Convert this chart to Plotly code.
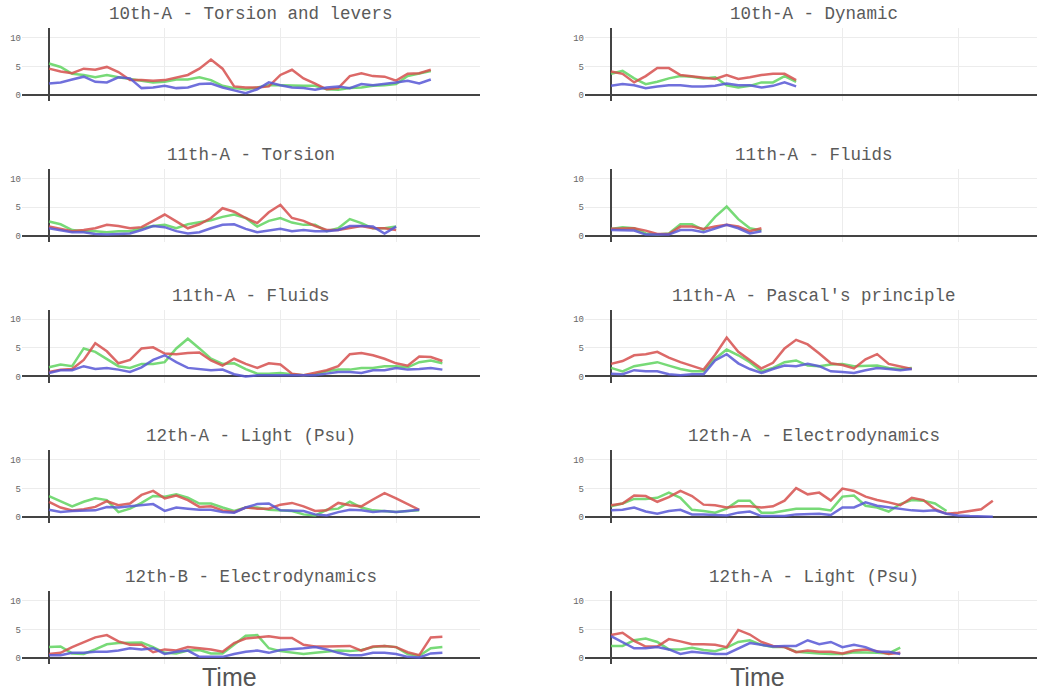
import plotly.graph_objects as go

# ---- panel titles (2 columns x 5 rows, read row by row) ----
titles = [
    "10th-A - Torsion and levers", "10th-A - Dynamic",
    "11th-A - Torsion", "11th-A - Fluids",
    "11th-A - Fluids", "11th-A - Pascal's principle",
    "12th-A - Light (Psu)", "12th-A - Electrodynamics",
    "12th-B - Electrodynamics", "12th-A - Light (Psu)",
]

# time step between consecutive samples
step = 2

# ---- series values per panel ----
torsion_levers_red = [4.6, 4.1, 3.8, 4.6, 4.4, 4.9, 4.0, 2.6, 2.6, 2.5, 2.6, 3.0, 3.5, 4.6, 6.2, 4.6, 1.5, 1.3, 1.3, 1.5, 3.5, 4.4, 2.9, 2.0, 1.0, 1.2, 3.3, 3.8, 3.3, 3.2, 2.5, 3.7, 3.8, 4.4]
torsion_levers_green = [5.5, 4.9, 3.7, 3.5, 3.1, 3.5, 3.1, 2.8, 2.6, 2.2, 2.3, 2.7, 2.7, 3.1, 2.6, 1.6, 1.2, 1.0, 1.3, 1.7, 1.7, 1.6, 1.6, 1.6, 1.0, 0.9, 1.2, 1.3, 1.6, 1.7, 1.9, 3.3, 3.7, 4.2]
torsion_levers_blue = [2.0, 2.2, 2.7, 3.2, 2.3, 2.2, 3.1, 2.9, 1.2, 1.3, 1.6, 1.2, 1.3, 1.9, 2.0, 1.3, 0.8, 0.3, 1.0, 2.2, 1.7, 1.3, 1.2, 0.9, 1.3, 1.5, 1.2, 1.9, 1.7, 1.9, 2.2, 2.5, 2.0, 2.7]

dynamic_red = [4.1, 3.7, 2.2, 3.3, 4.7, 4.7, 3.5, 3.3, 3.1, 2.8, 3.5, 2.8, 3.1, 3.5, 3.7, 3.7, 2.6]
dynamic_green = [3.7, 4.2, 2.9, 1.9, 2.3, 2.9, 3.3, 3.2, 2.9, 3.1, 1.7, 1.3, 1.6, 2.2, 2.2, 3.3, 2.3]
dynamic_blue = [1.6, 1.9, 1.7, 1.2, 1.5, 1.7, 1.7, 1.5, 1.5, 1.6, 2.0, 1.7, 1.7, 1.3, 1.6, 2.2, 1.5]

torsion_red = [1.6, 1.2, 0.8, 1.0, 1.3, 1.9, 1.7, 1.3, 1.5, 2.6, 3.7, 2.5, 1.3, 2.0, 3.1, 4.8, 4.2, 3.1, 2.2, 4.1, 5.4, 3.1, 2.6, 1.7, 1.0, 1.0, 1.3, 1.7, 1.3, 1.3, 1.0]
torsion_green = [2.5, 2.0, 1.0, 0.8, 0.8, 0.6, 0.8, 0.8, 1.3, 1.7, 1.9, 1.3, 2.0, 2.3, 2.7, 3.3, 3.7, 3.1, 1.6, 2.6, 3.1, 2.3, 1.9, 1.9, 0.8, 1.3, 2.9, 2.2, 1.3, 1.3, 1.6]
torsion_blue = [1.3, 0.9, 0.6, 0.6, 0.3, 0.2, 0.3, 0.4, 1.0, 1.7, 1.5, 0.8, 0.4, 0.6, 1.3, 1.9, 2.0, 1.2, 0.6, 0.9, 1.2, 0.8, 1.0, 0.8, 0.8, 1.0, 1.7, 1.7, 1.6, 0.4, 1.6]

fluids_short_red = [1.2, 1.3, 1.3, 0.9, 0.3, 0.3, 1.6, 1.6, 1.2, 1.6, 1.9, 1.6, 0.8, 1.3]
fluids_short_green = [1.2, 1.5, 1.3, 0.4, 0.2, 0.4, 2.0, 2.0, 1.0, 3.3, 5.1, 2.9, 1.3, 0.9]
fluids_short_blue = [1.0, 1.0, 0.9, 0.2, 0.2, 0.2, 1.0, 1.0, 0.6, 1.2, 1.9, 1.3, 0.4, 0.8]

fluids_red = [0.8, 1.2, 1.3, 2.9, 5.8, 4.4, 2.3, 2.9, 4.9, 5.1, 4.0, 3.9, 4.1, 4.2, 2.8, 1.9, 3.1, 2.2, 1.5, 2.3, 2.1, 0.5, 0.2, 0.6, 1.1, 1.8, 3.9, 4.1, 3.7, 3.1, 2.3, 1.9, 3.5, 3.4, 2.7]
fluids_green = [1.6, 2.1, 1.8, 4.9, 4.3, 3.1, 1.8, 1.5, 2.2, 2.2, 2.5, 4.9, 6.6, 4.9, 3.1, 2.2, 2.3, 1.3, 0.5, 0.5, 0.6, 0.4, 0.2, 0.4, 0.9, 1.2, 1.2, 1.5, 1.5, 1.8, 1.8, 1.6, 2.5, 2.8, 2.3]
fluids_blue = [0.6, 1.1, 1.1, 1.8, 1.3, 1.5, 1.2, 0.8, 1.6, 2.9, 3.7, 2.5, 1.5, 1.3, 1.1, 1.2, 0.4, 0.0, 0.2, 0.2, 0.2, 0.2, 0.2, 0.2, 0.5, 0.8, 0.8, 0.6, 1.1, 1.1, 1.5, 1.2, 1.3, 1.5, 1.2]

pascal_red = [2.2, 2.7, 3.7, 3.9, 4.3, 3.3, 2.5, 1.8, 1.2, 3.8, 6.8, 4.3, 2.9, 1.4, 2.4, 4.9, 6.4, 5.6, 4.0, 2.3, 2.0, 1.4, 3.0, 3.9, 2.2, 1.7, 1.3]
pascal_green = [1.5, 0.9, 1.8, 2.2, 2.5, 1.9, 1.3, 0.9, 0.9, 3.1, 4.7, 3.7, 2.5, 0.9, 1.5, 2.5, 2.8, 1.9, 1.8, 2.1, 2.2, 1.8, 1.8, 1.9, 1.5, 1.3, 1.5]
pascal_blue = [0.5, 0.4, 1.1, 0.9, 0.9, 0.4, 0.2, 0.4, 0.4, 2.8, 3.9, 2.3, 1.3, 0.6, 1.3, 1.9, 1.8, 2.2, 1.8, 0.9, 0.8, 0.6, 1.1, 1.5, 1.3, 1.1, 1.3]

light_a_red = [2.7, 1.7, 1.2, 1.4, 1.8, 2.8, 2.1, 2.4, 3.9, 4.6, 3.3, 3.8, 3.0, 1.8, 1.9, 1.2, 0.9, 1.7, 1.5, 1.5, 2.2, 2.5, 1.9, 1.1, 1.2, 2.5, 2.1, 1.9, 3.1, 4.2, 3.3, 2.3, 1.3]
light_a_green = [3.7, 2.8, 1.9, 2.7, 3.3, 3.0, 0.9, 1.5, 2.5, 3.7, 3.6, 4.0, 3.4, 2.4, 2.4, 1.7, 1.1, 1.7, 1.7, 1.3, 1.2, 1.1, 0.5, 0.3, 1.3, 1.5, 2.7, 1.7, 1.2, 1.1, 0.9, 1.1, 1.2]
light_a_blue = [1.3, 0.9, 1.1, 1.2, 1.2, 1.8, 1.7, 1.9, 2.1, 2.3, 1.1, 1.7, 1.5, 1.3, 1.3, 0.9, 0.8, 1.7, 2.3, 2.4, 1.2, 1.2, 1.1, 0.5, 0.3, 0.9, 1.3, 1.2, 0.9, 1.1, 0.9, 1.1, 1.3]

electro_a_red = [2.1, 2.4, 3.8, 3.7, 2.7, 3.5, 4.6, 3.7, 2.2, 2.1, 1.7, 1.9, 1.9, 1.7, 1.9, 2.9, 5.1, 4.0, 4.3, 2.9, 5.0, 4.6, 3.6, 3.0, 2.6, 2.1, 3.4, 3.0, 1.4, 0.6, 0.8, 1.1, 1.4, 2.9]
electro_a_green = [1.9, 2.4, 3.2, 3.2, 3.4, 4.3, 3.4, 1.3, 1.1, 0.8, 1.5, 2.9, 2.9, 0.8, 0.8, 1.1, 1.5, 1.5, 1.5, 1.2, 3.6, 3.8, 2.0, 1.7, 1.0, 2.3, 3.0, 2.9, 2.4, 1.1]
electro_a_blue = [1.2, 1.3, 1.7, 1.0, 0.6, 1.1, 1.3, 0.5, 0.5, 0.4, 0.3, 0.8, 1.0, 0.2, 0.2, 0.2, 0.5, 0.6, 0.6, 0.4, 1.7, 1.7, 2.6, 2.0, 1.7, 1.5, 1.2, 1.1, 1.2, 0.6, 0.3, 0.2, 0.1, 0.1]

electro_b_red = [0.7, 0.9, 1.9, 2.7, 3.6, 4.0, 2.9, 2.3, 2.3, 1.0, 1.5, 1.3, 1.9, 1.7, 1.5, 1.1, 2.6, 3.4, 3.6, 3.8, 3.5, 3.5, 2.3, 2.0, 2.0, 2.1, 2.1, 1.3, 2.0, 2.1, 1.9, 1.0, 0.5, 3.6, 3.7]
electro_b_green = [1.9, 2.0, 0.8, 0.7, 1.5, 2.4, 2.6, 2.6, 2.7, 1.9, 0.9, 0.8, 1.3, 1.4, 0.8, 0.8, 2.3, 3.9, 4.0, 1.7, 1.2, 1.0, 0.7, 0.9, 1.1, 1.3, 1.2, 1.4, 1.9, 2.1, 1.9, 0.7, 0.4, 1.7, 1.9]
electro_b_blue = [0.5, 0.5, 0.9, 0.9, 1.1, 1.1, 1.3, 1.7, 1.5, 1.7, 0.7, 1.1, 1.3, 0.2, 0.2, 0.2, 0.7, 1.1, 1.3, 0.9, 1.4, 1.5, 1.7, 1.9, 1.5, 0.9, 0.5, 0.5, 0.9, 0.9, 0.7, 0.2, 0.1, 0.8, 0.9]

light_b_red = [4.0, 4.4, 3.0, 2.0, 2.0, 3.3, 2.9, 2.4, 2.4, 2.3, 1.9, 4.9, 4.1, 2.8, 2.1, 1.9, 1.0, 1.3, 1.1, 1.1, 0.8, 1.3, 1.5, 1.2, 0.7, 0.9]
light_b_green = [2.1, 2.1, 3.1, 3.4, 2.8, 1.5, 1.5, 1.8, 1.4, 1.2, 1.8, 2.8, 3.1, 2.3, 1.9, 1.9, 1.1, 0.9, 0.8, 0.7, 0.7, 1.0, 1.0, 0.9, 0.8, 1.8]
light_b_blue = [3.8, 2.8, 1.7, 1.7, 1.9, 1.5, 0.7, 1.1, 0.9, 0.7, 0.7, 1.7, 2.6, 2.3, 2.0, 2.1, 2.1, 3.1, 2.4, 2.8, 1.9, 2.3, 1.9, 1.1, 1.1, 0.7]

panels = [
    (torsion_levers_red, torsion_levers_green, torsion_levers_blue),
    (dynamic_red, dynamic_green, dynamic_blue),
    (torsion_red, torsion_green, torsion_blue),
    (fluids_short_red, fluids_short_green, fluids_short_blue),
    (fluids_red, fluids_green, fluids_blue),
    (pascal_red, pascal_green, pascal_blue),
    (light_a_red, light_a_green, light_a_blue),
    (electro_a_red, electro_a_green, electro_a_blue),
    (electro_b_red, electro_b_green, electro_b_blue),
    (light_b_red, light_b_green, light_b_blue),
]

x_label = "Time"
y_ticks = [0, 5, 10]

RED = "rgb(214,80,78)"
GREEN = "rgb(96,212,96)"
BLUE = "rgb(88,88,214)"

W, H = 1037, 691
# pixel layout of the grid
col_x = [(22, 480), (585, 1037)]
col_zero = [49, 611]
px_per_unit = 5.785
row_top0, row_pitch, row_h = 28, 140.75, 73
y_range = [-1.05, 11.7]

fig = go.Figure()
layout = dict(
    width=W, height=H,
    margin=dict(l=0, r=0, t=0, b=0),
    paper_bgcolor="white", plot_bgcolor="white",
    showlegend=False,
    annotations=[],
)

for i, (red, green, blue) in enumerate(panels):
    r, c = divmod(i, 2)
    n = i + 1
    xa = "x" if n == 1 else f"x{n}"
    ya = "y" if n == 1 else f"y{n}"
    x0, x1 = col_x[c]
    z = col_zero[c]
    top = row_top0 + r * row_pitch
    bot = top + row_h
    for vals, col in ((green, GREEN), (red, RED), (blue, BLUE)):
        fig.add_trace(go.Scatter(
            x=[k * step for k in range(len(vals))], y=vals,
            mode="lines", line=dict(color=col, width=2.5),
            opacity=0.85, xaxis=xa, yaxis=ya, hoverinfo="skip",
        ))
    key = "" if n == 1 else str(n)
    layout["xaxis" + key] = dict(
        domain=[x0 / W, x1 / W], anchor=ya,
        range=[-(z - x0) / px_per_unit, (x1 - z) / px_per_unit],
        tick0=0, dtick=20, showticklabels=False, ticks="",
        showgrid=True, gridcolor="#ececec", gridwidth=1,
        zeroline=True, zerolinecolor="#444", zerolinewidth=2,
        showline=False, fixedrange=True,
    )
    layout["yaxis" + key] = dict(
        domain=[1 - bot / H, 1 - top / H], anchor=xa,
        range=y_range, tickvals=y_ticks, ticks="",
        tickfont=dict(family="Liberation Mono", size=9, color="#666"),
        showgrid=True, gridcolor="#ececec", gridwidth=1,
        zeroline=True, zerolinecolor="#444", zerolinewidth=2,
        showline=False, fixedrange=True,
    )
    title_cx = (251, 814)[c]
    layout["annotations"].append(dict(
        text=titles[i], xref="paper", yref="paper",
        x=title_cx / W, y=1 - (14 + r * row_pitch) / H,
        xanchor="center", yanchor="middle", showarrow=False,
        font=dict(family="Liberation Mono", size=17.5, color="#5a5a5a"),
    ))

for cx in (229, 757):
    layout["annotations"].append(dict(
        text=x_label, xref="paper", yref="paper",
        x=cx / W, y=1 - 677 / H, xanchor="center", yanchor="middle",
        showarrow=False,
        font=dict(family="Liberation Sans", size=25, color="#555"),
    ))

fig.update_layout(**layout)
fig.write_html("out.html")
